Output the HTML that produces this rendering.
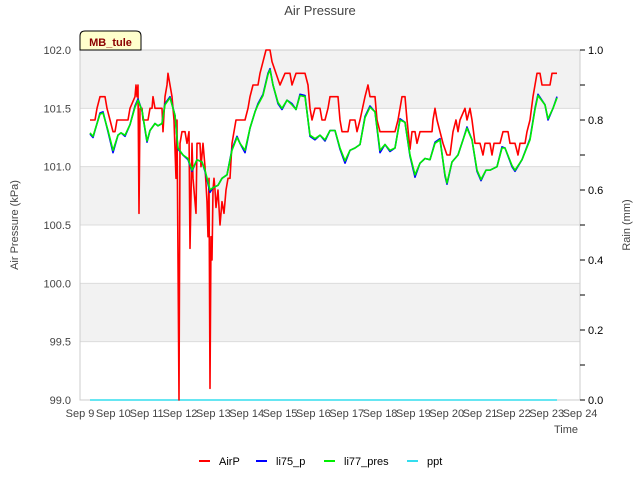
<!DOCTYPE html>
<html><head><meta charset="utf-8"><style>
body{margin:0;background:#fff;}
svg{display:block;font-family:"Liberation Sans","DejaVu Sans",sans-serif;}
</style></head><body>
<svg id="chart" width="640" height="480">
<text x="320" y="15" text-anchor="middle" font-size="13" fill="#444">Air Pressure</text>
<g id="bands"></g>
<g id="grid"></g>
<rect x="80" y="50" width="500" height="350" fill="none" stroke="#ccc"/>
<g id="yaxis"></g>
<g id="y2axis"></g>
<g id="xaxis"></g>
<g id="series"></g>
<text transform="translate(18,225) rotate(-90)" text-anchor="middle" font-size="11" fill="#444">Air Pressure (kPa)</text>
<text transform="translate(630,225) rotate(-90)" text-anchor="middle" font-size="11" fill="#444">Rain (mm)</text>
<text x="578" y="433" text-anchor="end" font-size="11" fill="#444">Time</text>
<g>
<path d="M80,50 L80,36 Q80,31 85,31 L136,31 Q141,31 141,36 L141,50 Z" fill="#ffffcc" stroke="#000" stroke-width="1"/>
<text x="110.5" y="46" text-anchor="middle" font-size="11" font-weight="bold" fill="#8b0000">MB_tule</text>
</g>
<g id="legend"></g>
</svg>
<script>
const airpDays=[0.30,0.45,0.51,0.6,0.75,0.81,0.9,0.99,1.05,1.11,1.44,1.5,1.65,1.68,1.71,1.74,1.77,1.8,1.86,1.89,2.04,2.1,2.16,2.19,2.25,2.46,2.49,2.55,2.61,2.64,2.7,2.76,2.82,2.88,2.91,2.97,3.0,3.06,3.15,3.21,3.27,3.3,3.36,3.39,3.48,3.51,3.6,3.63,3.69,3.75,3.81,3.84,3.87,3.9,3.93,3.96,3.99,4.02,4.05,4.08,4.14,4.2,4.26,4.32,4.38,4.44,4.5,4.56,4.62,4.68,4.95,5.04,5.1,5.19,5.34,5.4,5.49,5.58,5.7,5.76,5.88,6.0,6.15,6.3,6.36,6.48,6.75,6.84,6.9,6.96,7.05,7.2,7.26,7.35,7.44,7.5,7.74,7.8,7.86,8.04,8.1,8.25,8.31,8.4,8.55,8.64,8.7,8.85,8.91,9.0,9.45,9.54,9.6,9.66,9.75,9.81,9.9,9.96,10.05,10.11,10.2,10.56,10.59,10.65,10.71,10.8,10.89,11.01,11.1,11.19,11.28,11.34,11.4,11.55,11.61,11.7,11.76,11.85,12.0,12.09,12.15,12.3,12.36,12.42,12.6,12.69,12.84,12.9,13.05,13.14,13.2,13.35,13.41,13.5,13.59,13.65,13.71,13.8,13.86,14.1,14.16,14.31];
const airpValues=[101.4,101.4,101.5,101.6,101.6,101.5,101.4,101.3,101.3,101.4,101.4,101.5,101.6,101.7,101.6,101.7,100.6,101.5,101.5,101.4,101.4,101.5,101.5,101.6,101.5,101.5,101.3,101.6,101.7,101.8,101.7,101.6,101.4,100.9,101.4,99.0,101.2,101.3,101.3,101.2,101.3,100.3,101.2,100.9,100.6,101.2,101.2,101.0,101.2,101.0,100.7,100.4,100.9,99.1,100.4,100.2,100.8,100.9,100.8,100.65,100.8,100.5,100.7,100.6,100.8,100.9,100.9,101.2,101.3,101.4,101.4,101.5,101.6,101.7,101.7,101.8,101.9,102.0,102.0,101.9,101.8,101.7,101.8,101.8,101.7,101.8,101.8,101.7,101.5,101.4,101.5,101.5,101.4,101.4,101.5,101.6,101.6,101.4,101.3,101.3,101.4,101.4,101.3,101.4,101.6,101.7,101.6,101.6,101.4,101.3,101.3,101.4,101.5,101.6,101.6,101.4,101.15,101.3,101.3,101.2,101.3,101.3,101.4,101.5,101.4,101.3,101.2,101.1,101.1,101.3,101.4,101.3,101.4,101.5,101.4,101.5,101.4,101.2,101.2,101.1,101.2,101.2,101.1,101.2,101.2,101.3,101.3,101.2,101.2,101.1,101.2,101.2,101.3,101.4,101.6,101.7,101.8,101.8,101.7,101.7,101.8,101.8];
const liDays=[0.30,0.39,0.6,0.69,0.84,0.99,1.14,1.23,1.35,1.5,1.65,1.74,1.86,2.01,2.1,2.25,2.34,2.46,2.55,2.7,2.85,2.94,3.09,3.24,3.36,3.51,3.66,3.75,3.9,3.99,4.14,4.26,4.41,4.56,4.71,4.8,4.95,5.1,5.25,5.34,5.49,5.64,5.7,5.79,5.94,6.06,6.21,6.36,6.48,6.6,6.75,6.9,7.05,7.2,7.35,7.5,7.65,7.8,7.95,8.1,8.25,8.4,8.55,8.7,8.85,9.0,9.15,9.3,9.45,9.6,9.75,9.9,10.05,10.2,10.35,10.5,10.65,10.8,10.95,11.01,11.16,11.34,11.49,11.61,11.76,11.91,12.03,12.18,12.3,12.51,12.66,12.75,12.96,13.05,13.26,13.5,13.65,13.74,13.95,14.04,14.19,14.31];
const li77Values=[101.29,101.26,101.45,101.46,101.31,101.14,101.27,101.29,101.27,101.36,101.51,101.57,101.48,101.22,101.31,101.37,101.35,101.37,101.53,101.59,101.44,101.16,101.1,101.07,100.97,101.06,101.04,100.97,100.8,100.82,100.84,100.9,100.93,101.14,101.25,101.2,101.14,101.33,101.47,101.53,101.61,101.79,101.83,101.7,101.55,101.5,101.57,101.53,101.49,101.61,101.6,101.27,101.24,101.27,101.23,101.31,101.31,101.16,101.05,101.14,101.16,101.19,101.42,101.51,101.47,101.14,101.19,101.14,101.16,101.4,101.38,101.1,100.93,101.03,101.07,101.06,101.2,101.23,100.93,100.86,101.04,101.1,101.23,101.33,101.23,100.97,100.89,100.97,100.97,101.0,101.16,101.16,101.01,100.97,101.06,101.23,101.49,101.61,101.53,101.41,101.5,101.59];
const li75Values=[101.28,101.25,101.46,101.47,101.3,101.12,101.27,101.29,101.26,101.36,101.52,101.58,101.48,101.21,101.31,101.37,101.35,101.37,101.54,101.6,101.44,101.15,101.1,101.06,100.96,101.06,101.04,100.96,100.78,100.82,100.84,100.9,100.93,101.15,101.26,101.2,101.12,101.33,101.47,101.54,101.62,101.8,101.84,101.7,101.54,101.49,101.57,101.54,101.49,101.62,101.61,101.26,101.23,101.27,101.22,101.31,101.31,101.15,101.03,101.14,101.16,101.19,101.43,101.52,101.47,101.12,101.19,101.13,101.16,101.41,101.38,101.09,100.91,101.03,101.07,101.06,101.21,101.24,100.92,100.85,101.04,101.1,101.23,101.34,101.23,100.96,100.88,100.97,100.97,101.0,101.17,101.16,101.0,100.96,101.06,101.24,101.5,101.62,101.53,101.4,101.5,101.6];
const pptDays=[0.3,14.31];
const pptValues=[0,0];
const xTickLabels=["Sep 9","Sep 10","Sep 11","Sep 12","Sep 13","Sep 14","Sep 15","Sep 16","Sep 17","Sep 18","Sep 19","Sep 20","Sep 21","Sep 22","Sep 23","Sep 24"];
const yTicks=[99.0,99.5,100.0,100.5,101.0,101.5,102.0];
const y2Ticks=[0,0.1,0.2,0.3,0.4,0.5,0.6,0.7,0.8,0.9,1.0];

const NS="http://www.w3.org/2000/svg";
const X0=80,X1=580,Y0=400,Y1=50;
const xs=d=>X0+(d/15)*(X1-X0);
const ys=v=>Y0-(v-99)/3*(Y0-Y1);
const y2s=v=>Y0-v*(Y0-Y1);
function mk(tag,attrs,parent){const e=document.createElementNS(NS,tag);for(const k in attrs)e.setAttribute(k,attrs[k]);parent.appendChild(e);return e;}

const bands=document.getElementById('bands');
[[99.5,100],[100.5,101],[101.5,102]].forEach(b=>{
  const r=mk('rect',{x:X0,y:ys(b[1]),width:X1-X0,height:ys(b[0])-ys(b[1]),fill:'#f2f2f2'},bands);
  
  
});
const grid=document.getElementById('grid');
const ya=document.getElementById('yaxis');
yTicks.forEach(t=>{
  const l=mk('line',{x1:X0,x2:X1,y1:ys(t),y2:ys(t),stroke:'#dcdcdc'},grid);
  
  
  const tx=mk('text',{x:X0-9,y:ys(t)+4,'text-anchor':'end','font-size':'11',fill:'#444'},ya);
  tx.textContent=t.toFixed(1);
  
  
});
const y2a=document.getElementById('y2axis');
y2Ticks.forEach((t,i)=>{
  const l=mk('line',{x1:X1,x2:X1+5,y1:y2s(t),y2:y2s(t),stroke:'#000'},y2a);
  
  
  if(i%2===0){
    const tx=mk('text',{x:X1+8,y:y2s(t)+4,'font-size':'11',fill:'#000'},y2a);
    tx.textContent=t.toFixed(1);
    
    
  }
});
const xa=document.getElementById('xaxis');
xTickLabels.forEach((s,i)=>{
  const tx=mk('text',{x:xs(i),y:417,'text-anchor':'middle','font-size':'11',fill:'#444'},xa);
  tx.textContent=s;
  
  
});
const sg=document.getElementById('series');
function line(days,vals,sc,color,w,name){
  const p=mk('polyline',{points:days.map((d,i)=>xs(d)+','+sc(vals[i])).join(' '),fill:'none',stroke:color,'stroke-width':w,'stroke-linejoin':'round'},sg);
  
  
}
line(pptDays,pptValues,y2s,'#33ddee',1.5,'series-ppt');
line(airpDays,airpValues,ys,'#ff0000',1.6,'series-airp');
line(liDays,li75Values,ys,'#0000ff',1.6,'series-li75-p');
line(liDays,li77Values,ys,'#00ee00',1.6,'series-li77-pres');

const lg=document.getElementById('legend');
[['AirP','#ff0000',199],['li75_p','#0000ff',256],['li77_pres','#00ee00',324],['ppt','#33ddee',407]].forEach(e=>{
  const l=mk('line',{x1:e[2],x2:e[2]+11,y1:461,y2:461,stroke:e[1],'stroke-width':2},lg);
  
  
  const t=mk('text',{x:e[2]+20,y:465,'font-size':'11',fill:'#000'},lg);
  t.textContent=e[0];
  
  
});
</script>
</body></html>
